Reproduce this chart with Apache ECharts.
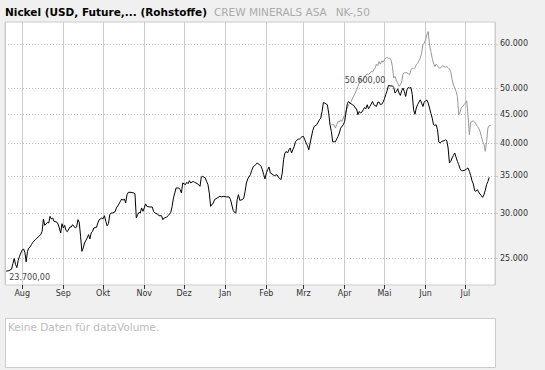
<!DOCTYPE html>
<html><head><meta charset="utf-8">
<script src="https://cdn.jsdelivr.net/npm/echarts@6/dist/echarts.min.js"></script>
<style>html,body{margin:0;padding:0;background:#f0f0f0;}#c{width:545px;height:370px;}</style>
</head><body><div id="c"></div>
<script>
const titleMain = 'Nickel (USD, Future,... (Rohstoffe)';
const titleSub1 = 'CREW MINERALS ASA';
const titleSub2 = 'NK-,50';
const volumeText = 'Keine Daten für dataVolume.';
const monthNames = ['Jan','Feb','Mrz','Apr','Mai','Jun','Jul','Aug','Sep','Okt','Nov','Dez'];
const yTickValues = [25000,30000,35000,40000,45000,50000,60000];
const xRange = ['2006-07-19T01:00:00', '2007-07-23T08:00:00'];
const yRange = [22400, 65600];

const nickelDates = ['2006-07-20','2006-07-22','2006-07-24','2006-07-25','2006-07-26','2006-07-27','2006-07-28','2006-07-29','2006-07-30','2006-07-31','2006-08-01','2006-08-02','2006-08-03','2006-08-04','2006-08-05','2006-08-06','2006-08-07','2006-08-08','2006-08-09','2006-08-11','2006-08-13','2006-08-15','2006-08-16','2006-08-17','2006-08-18','2006-08-19','2006-08-20','2006-08-21','2006-08-22','2006-08-23','2006-08-24','2006-08-25','2006-08-27','2006-08-28','2006-08-29','2006-08-30','2006-08-31','2006-09-01','2006-09-02','2006-09-03','2006-09-04','2006-09-06','2006-09-07','2006-09-08','2006-09-10','2006-09-11','2006-09-12','2006-09-13','2006-09-14','2006-09-15','2006-09-16','2006-09-17','2006-09-19','2006-09-20','2006-09-21','2006-09-22','2006-09-23','2006-09-24','2006-09-26','2006-09-27','2006-09-28','2006-09-30','2006-10-01','2006-10-02','2006-10-03','2006-10-04','2006-10-05','2006-10-06','2006-10-07','2006-10-08','2006-10-10','2006-10-11','2006-10-13','2006-10-14','2006-10-15','2006-10-16','2006-10-17','2006-10-18','2006-10-19','2006-10-20','2006-10-22','2006-10-24','2006-10-25','2006-10-26','2006-10-27','2006-10-28','2006-10-29','2006-10-30','2006-10-31','2006-11-01','2006-11-02','2006-11-03','2006-11-05','2006-11-07','2006-11-08','2006-11-09','2006-11-11','2006-11-12','2006-11-14','2006-11-15','2006-11-16','2006-11-18','2006-11-19','2006-11-21','2006-11-22','2006-11-23','2006-11-24','2006-11-25','2006-11-27','2006-11-28','2006-11-29','2006-11-30','2006-12-02','2006-12-03','2006-12-04','2006-12-05','2006-12-06','2006-12-07','2006-12-08','2006-12-09','2006-12-10','2006-12-12','2006-12-13','2006-12-14','2006-12-15','2006-12-17','2006-12-18','2006-12-19','2006-12-20','2006-12-21','2006-12-23','2006-12-24','2006-12-26','2006-12-28','2006-12-29','2006-12-31','2007-01-02','2007-01-04','2007-01-05','2007-01-07','2007-01-08','2007-01-09','2007-01-10','2007-01-11','2007-01-12','2007-01-14','2007-01-15','2007-01-16','2007-01-17','2007-01-18','2007-01-20','2007-01-21','2007-01-22','2007-01-24','2007-01-25','2007-01-27','2007-01-28','2007-01-29','2007-01-30','2007-01-31','2007-02-01','2007-02-02','2007-02-03','2007-02-04','2007-02-06','2007-02-07','2007-02-09','2007-02-10','2007-02-12','2007-02-13','2007-02-14','2007-02-15','2007-02-16','2007-02-17','2007-02-18','2007-02-19','2007-02-20','2007-02-22','2007-02-23','2007-02-25','2007-02-26','2007-02-28','2007-03-01','2007-03-02','2007-03-03','2007-03-04','2007-03-05','2007-03-06','2007-03-08','2007-03-09','2007-03-11','2007-03-13','2007-03-14','2007-03-15','2007-03-16','2007-03-17','2007-03-19','2007-03-20','2007-03-21','2007-03-22','2007-03-23','2007-03-25','2007-03-26','2007-03-27','2007-03-28','2007-03-29','2007-03-31','2007-04-01','2007-04-02','2007-04-03','2007-04-04','2007-04-05','2007-04-07','2007-04-08','2007-04-09','2007-04-10','2007-04-11','2007-04-12','2007-04-13','2007-04-14','2007-04-15','2007-04-16','2007-04-17','2007-04-18','2007-04-19','2007-04-20','2007-04-21','2007-04-22','2007-04-23','2007-04-25','2007-04-26','2007-04-27','2007-04-28','2007-04-29','2007-04-30','2007-05-01','2007-05-02','2007-05-03','2007-05-04','2007-05-06','2007-05-07','2007-05-08','2007-05-09','2007-05-10','2007-05-11','2007-05-12','2007-05-13','2007-05-14','2007-05-15','2007-05-16','2007-05-17','2007-05-18','2007-05-19','2007-05-20','2007-05-21','2007-05-22','2007-05-23','2007-05-24','2007-05-25','2007-05-26','2007-05-27','2007-05-28','2007-05-29','2007-05-30','2007-05-31','2007-06-01','2007-06-02','2007-06-03','2007-06-04','2007-06-05','2007-06-06','2007-06-07','2007-06-08','2007-06-09','2007-06-10','2007-06-11','2007-06-12','2007-06-13','2007-06-15','2007-06-16','2007-06-17','2007-06-18','2007-06-19','2007-06-20','2007-06-21','2007-06-22','2007-06-23','2007-06-24','2007-06-25','2007-06-26','2007-06-27','2007-06-28','2007-06-29','2007-07-01','2007-07-02','2007-07-03','2007-07-04','2007-07-05','2007-07-06','2007-07-07','2007-07-08','2007-07-09','2007-07-10','2007-07-11','2007-07-12','2007-07-13','2007-07-14','2007-07-15','2007-07-16','2007-07-17','2007-07-18','2007-07-19'];
const nickelValues = [23700,23750,23900,24450,24950,24350,24050,24780,25190,25540,25810,25960,25600,24620,25700,26060,26170,26420,26670,26960,27260,27520,27890,29330,28580,28740,28930,28860,29650,29330,29450,29050,28980,28740,28280,27700,28780,28280,28580,28000,27850,28390,28390,28660,28280,28390,29250,28930,27330,25700,26060,26600,27150,27520,27040,27710,27890,28280,28350,28860,29250,29450,29370,29730,29050,28540,28780,29850,30060,30060,30220,30690,31200,31530,31840,31660,31840,31320,32400,32710,32710,32630,32530,29450,29850,30140,30060,30690,30270,30690,31200,30890,30810,30810,30270,30060,29940,29730,29730,29250,29450,29570,29730,30140,30890,31970,32630,33300,33300,33070,32630,33990,33750,34070,33880,34300,33990,34120,34200,34070,33990,33750,33520,34830,34910,34690,34200,33750,32630,30890,31320,31750,31970,32180,32100,32180,32100,32100,31750,30390,30140,30060,31750,32400,31660,31750,31970,32840,33990,34550,35160,35780,36280,36620,36870,36620,36370,35880,35160,34550,35400,35880,36280,35400,35160,35010,35160,34830,34450,35400,37380,38410,38660,38410,38920,39200,38410,39460,40260,40660,40660,41090,41090,40550,40000,39560,38920,40000,42110,42800,43110,44000,44310,45520,47220,47100,46780,45220,43110,41940,40210,40210,40660,41090,41670,42520,43110,43700,45220,46970,47410,47100,46780,46640,46150,46020,44910,45520,45220,45400,45830,46260,46020,46780,46020,46450,46900,47410,46780,46450,47290,47290,46780,46900,47290,47940,48730,49530,50600,50500,50550,50200,49070,49390,49940,49070,48600,49530,50080,49390,48400,49750,50200,50080,50200,48730,45830,45000,46150,46780,47290,47740,47100,46450,47290,47550,47680,47100,46150,45170,44310,43110,43000,43110,42250,40180,40000,40260,40390,40550,40390,39200,36880,37120,37640,38040,38410,37730,37120,36620,36030,35730,35730,35830,36030,36130,35630,35060,34300,33850,32940,32840,33070,32760,32490,32270,32050,32400,32970,33750,34200,34770];

const crewDates = ['2007-03-22','2007-03-24','2007-03-25','2007-03-26','2007-03-27','2007-03-28','2007-03-29','2007-03-30','2007-03-31','2007-04-01','2007-04-02','2007-04-04','2007-04-05','2007-04-06','2007-04-07','2007-04-09','2007-04-10','2007-04-11','2007-04-12','2007-04-13','2007-04-14','2007-04-15','2007-04-16','2007-04-17','2007-04-18','2007-04-19','2007-04-20','2007-04-21','2007-04-22','2007-04-23','2007-04-24','2007-04-25','2007-04-26','2007-04-27','2007-04-28','2007-04-29','2007-04-30','2007-05-01','2007-05-02','2007-05-03','2007-05-04','2007-05-05','2007-05-06','2007-05-07','2007-05-08','2007-05-09','2007-05-10','2007-05-11','2007-05-12','2007-05-13','2007-05-14','2007-05-15','2007-05-16','2007-05-18','2007-05-19','2007-05-20','2007-05-21','2007-05-22','2007-05-23','2007-05-24','2007-05-25','2007-05-26','2007-05-27','2007-05-28','2007-05-29','2007-05-30','2007-05-31','2007-06-01','2007-06-02','2007-06-03','2007-06-04','2007-06-05','2007-06-06','2007-06-07','2007-06-08','2007-06-09','2007-06-10','2007-06-11','2007-06-12','2007-06-14','2007-06-15','2007-06-16','2007-06-17','2007-06-18','2007-06-19','2007-06-20','2007-06-21','2007-06-22','2007-06-23','2007-06-24','2007-06-25','2007-06-26','2007-06-27','2007-06-28','2007-06-29','2007-06-30','2007-07-01','2007-07-02','2007-07-03','2007-07-04','2007-07-05','2007-07-06','2007-07-07','2007-07-08','2007-07-09','2007-07-10','2007-07-11','2007-07-12','2007-07-13','2007-07-14','2007-07-15','2007-07-16','2007-07-17','2007-07-18','2007-07-19','2007-07-20'];
const crewValues = [43110,43110,42530,43110,43700,43590,44000,43700,44310,44910,45650,46780,47100,47410,48080,49070,49730,50410,51110,52170,51460,51810,52300,52870,53020,52870,53240,53590,53460,53960,54330,55230,54880,55820,55230,55980,55680,56210,56600,56740,56600,56600,56210,54690,52170,52540,51600,51110,50410,50760,51330,53100,53310,53310,53100,52870,53960,54330,54170,54470,55070,55450,55980,56600,57770,59760,60170,60990,62250,63090,59760,58140,56600,55450,54690,55230,54880,54390,54330,54880,54690,54550,54690,54440,54130,53590,51810,50760,50080,49390,48400,44910,45400,46260,46450,46780,47100,47550,44910,41380,43590,43700,43810,43590,43240,42820,42540,41970,41130,40280,39850,38670,40280,42520,42980,42980];

function de(v, dec) {
  const s = Number(v).toFixed(dec);
  const parts = s.split('.');
  const i = parts[0].replace(/\B(?=(\d{3})+(?!\d))/g, '.');
  return parts[1] ? i + ',' + parts[1] : i;
}
const FONT = 'DejaVu Sans, Verdana, sans-serif';

const chart = echarts.init(document.getElementById('c'), null, {renderer: 'svg'});
chart.setOption({
  animation: false,
  backgroundColor: '#f0f0f0',
  title: {
    left: 5, top: 6, padding: 0,
    text: '{a|' + titleMain + '}{b|' + titleSub1 + '}{c|' + titleSub2 + '}',
    textStyle: {
      fontWeight: 'normal',
      rich: {
        a: {fontFamily: FONT, fontWeight: 'bold', fontSize: 10.5, color: '#000'},
        b: {fontFamily: FONT, fontWeight: 'normal', fontSize: 10.5, color: '#aaa', padding: [0, 0, 0, 7]},
        c: {fontFamily: FONT, fontWeight: 'normal', fontSize: 10.5, color: '#aaa', padding: [0, 0, 0, 9]}
      }
    }
  },
  grid: {left: 5, right: 50, top: 22, bottom: 85, show: true, backgroundColor: '#fff', borderColor: '#ccc', borderWidth: 1, containLabel: false},
  xAxis: {
    type: 'time',
    min: xRange[0], max: xRange[1],
    minInterval: 28 * 86400000, maxInterval: 31 * 86400000,
    axisLine: {show: false},
    axisTick: {show: true, length: 4, lineStyle: {color: '#333'}},
    axisLabel: {
      formatter: function (v) { return monthNames[new Date(v).getMonth()]; },
      fontFamily: FONT, fontSize: 8, color: '#333', margin: 4,
      showMinLabel: false, showMaxLabel: false, hideOverlap: false
    },
    splitLine: {show: true, lineStyle: {color: '#ccc', width: 1}}
  },
  yAxis: {
    type: 'log', position: 'right',
    min: yRange[0], max: yRange[1],
    axisLine: {show: false},
    axisTick: {show: true, length: 3, customValues: yTickValues, lineStyle: {color: '#ccc'}},
    axisLabel: {customValues: yTickValues, formatter: function (v) { return de(v, 0); }, fontFamily: FONT, fontSize: 8, color: '#333', margin: 5},
    splitLine: {show: true, lineStyle: {color: '#bbb', width: 1, type: [1, 2]}}
  },
  graphic: [
    {type: 'rect', left: 5, top: 318, shape: {width: 490, height: 49}, style: {fill: '#fff', stroke: '#ccc', lineWidth: 1}},
    {type: 'text', left: 8, top: 321, style: {text: volumeText, fill: '#bbb', font: '10.5px ' + FONT}}
  ],
  series: [
    {
      name: 'CREW MINERALS ASA', type: 'line', symbol: 'none', z: 2,
      data: crewDates.map(function (d, i) { return [d, crewValues[i]]; }),
      lineStyle: {color: '#999', width: 1}
    },
    {
      name: 'Nickel', type: 'line', symbol: 'none', z: 3,
      data: nickelDates.map(function (d, i) { return [d, nickelValues[i]]; }),
      lineStyle: {color: '#000', width: 1},
      markPoint: {
        symbol: 'circle', symbolSize: 0, silent: true,
        label: {show: true, formatter: function (p) { return de(p.value, 2); }, fontFamily: FONT, fontSize: 8, color: '#444'},
        data: [
          {type: 'max', label: {position: 'left', offset: [2, -5]}},
          {type: 'min', label: {position: 'right', offset: [-2, 6]}}
        ]
      }
    }
  ]
});
</script></body></html>
